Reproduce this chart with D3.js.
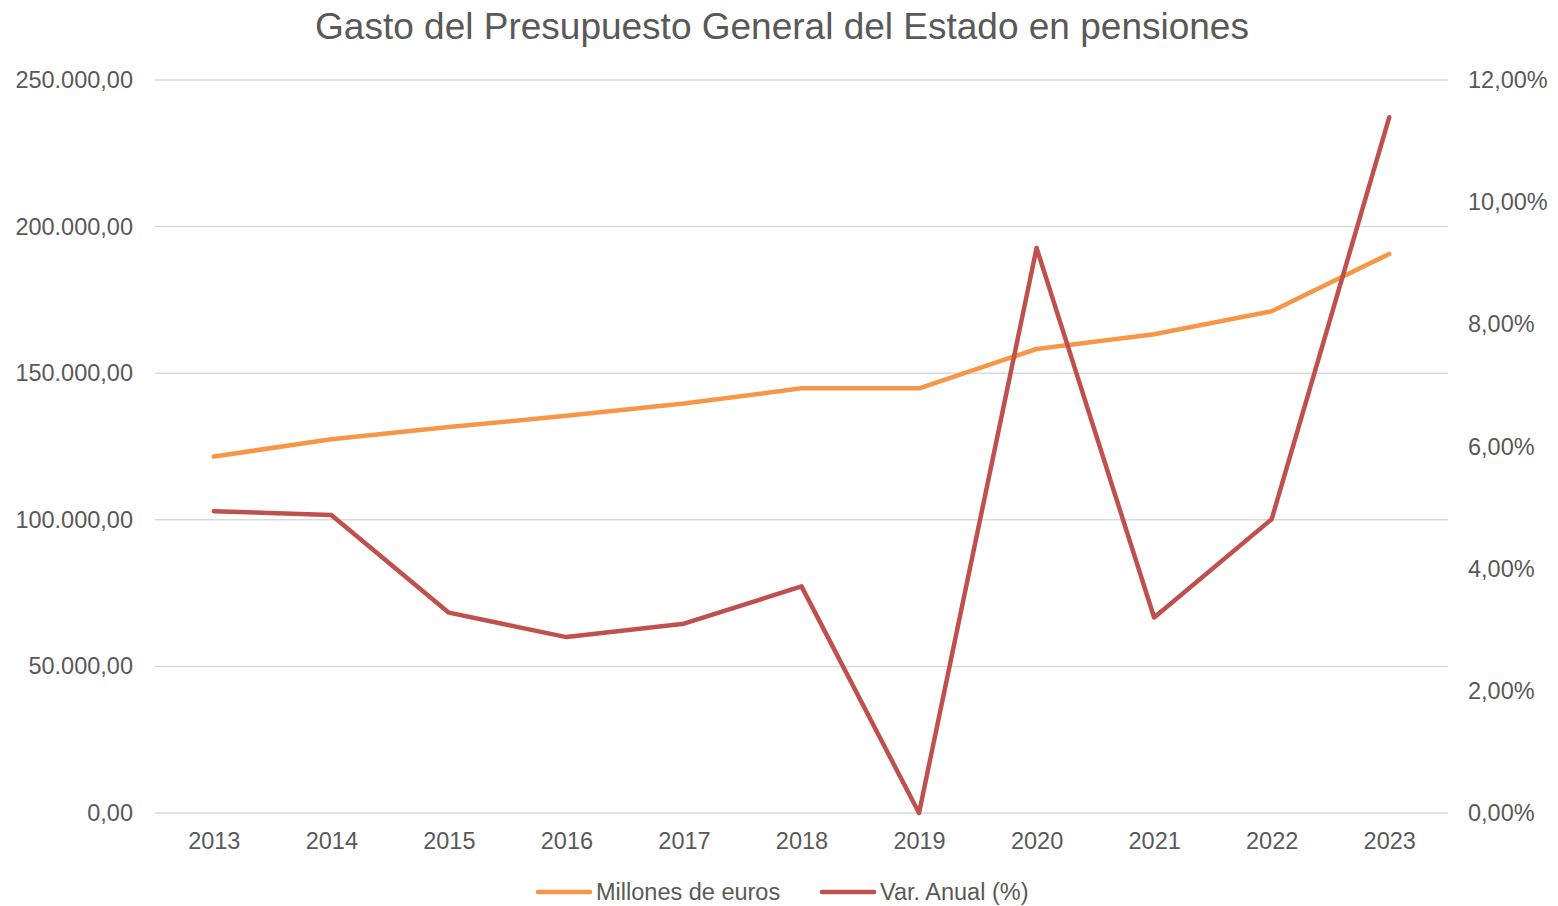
<!DOCTYPE html>
<html lang="es">
  <head>
    <meta charset="UTF-8" />
    <title>Gasto del Presupuesto General del Estado en pensiones</title>
    <style>
      body { margin: 0; background: white; }
      svg { display: block; font-family: "Liberation Sans", Arial, sans-serif; }
    </style>
  </head>
  <body>
    <svg></svg>
    <script src="https://d3js.org/d3.v7.min.js"></script>
    <script>
      const years = ["2013", "2014", "2015", "2016", "2017", "2018", "2019", "2020", "2021", "2022", "2023"];
      const millones = [121557, 127484, 131659, 135449, 139647, 144834, 144834, 158254, 163297, 171140, 190687];
      const varAnual = [4.94, 4.88, 3.28, 2.88, 3.10, 3.71, 0.0, 9.25, 3.20, 4.81, 11.39];
      const leftTicks = [0, 50000, 100000, 150000, 200000, 250000];
      const rightTicks = [0, 2, 4, 6, 8, 10, 12];

      const width = 1558;
      const height = 906;
      const margin = { top: 80, right: 110, bottom: 93, left: 155 };

      const svg = d3.select("svg").attr("width", width).attr("height", height);

      const x = d3
        .scalePoint()
        .domain(years)
        .range([margin.left, width - margin.right])
        .padding(0.5);
      const yLeft = d3
        .scaleLinear()
        .domain([0, 250000])
        .range([height - margin.bottom, margin.top]);
      const yRight = d3
        .scaleLinear()
        .domain([0, 12])
        .range([height - margin.bottom, margin.top]);

      const fmtLeft = (d) =>
        d3.format(",.2f")(d).replace(/,/g, "#").replace(".", ",").replace(/#/g, ".");
      const fmtRight = (d) => d3.format(".2f")(d).replace(".", ",") + "%";

      // gridlines
      svg
        .append("g")
        .selectAll("line")
        .data(leftTicks)
        .join("line")
        .attr("x1", margin.left)
        .attr("x2", width - margin.right)
        .attr("y1", (d) => yLeft(d))
        .attr("y2", (d) => yLeft(d))
        .attr("stroke", "#d9d9d9")
        .attr("stroke-width", 1.5);

      // left axis
      const leftAxis = svg
        .append("g")
        .attr("transform", `translate(${margin.left},0)`)
        .call(d3.axisLeft(yLeft).tickValues(leftTicks).tickFormat(fmtLeft).tickSize(0).tickPadding(22));
      leftAxis.select(".domain").remove();

      // right axis
      const rightAxis = svg
        .append("g")
        .attr("transform", `translate(${width - margin.right},0)`)
        .call(d3.axisRight(yRight).tickValues(rightTicks).tickFormat(fmtRight).tickSize(0).tickPadding(20));
      rightAxis.select(".domain").remove();

      // bottom axis
      const bottomAxis = svg
        .append("g")
        .attr("transform", `translate(0,${height - margin.bottom})`)
        .call(d3.axisBottom(x).tickSize(0).tickPadding(19));
      bottomAxis.select(".domain").remove();

      svg
        .selectAll(".tick text")
        .attr("fill", "#595959")
        .attr("font-size", 23.5)
        .attr("font-family", "Liberation Sans, Arial, sans-serif");

      // lines
      const lineLeft = d3
        .line()
        .x((d, i) => x(years[i]))
        .y((d) => yLeft(d));
      const lineRight = d3
        .line()
        .x((d, i) => x(years[i]))
        .y((d) => yRight(d));

      svg
        .append("path")
        .datum(millones)
        .attr("d", lineLeft)
        .attr("fill", "none")
        .attr("stroke", "#f79646")
        .attr("stroke-width", 4.5)
        .attr("stroke-linecap", "round")
        .attr("stroke-linejoin", "round");

      svg
        .append("path")
        .datum(varAnual)
        .attr("d", lineRight)
        .attr("fill", "none")
        .attr("stroke", "#c0504d")
        .attr("stroke-width", 4.5)
        .attr("stroke-linecap", "round")
        .attr("stroke-linejoin", "round");

      // title
      svg
        .append("text")
        .attr("x", 782)
        .attr("y", 39)
        .attr("text-anchor", "middle")
        .attr("fill", "#595959")
        .attr("font-size", 37)
        .text("Gasto del Presupuesto General del Estado en pensiones");

      // legend
      const legendItems = [
        { label: "Millones de euros", color: "#f79646", x: 538 },
        { label: "Var. Anual (%)", color: "#c0504d", x: 822 },
      ];
      const legend = svg
        .append("g")
        .selectAll("g")
        .data(legendItems)
        .join("g")
        .attr("transform", (d) => `translate(${d.x},892)`);
      legend
        .append("line")
        .attr("x1", 0)
        .attr("x2", 52)
        .attr("stroke", (d) => d.color)
        .attr("stroke-width", 4.5)
        .attr("stroke-linecap", "round");
      legend
        .append("text")
        .attr("x", 58)
        .attr("dy", "0.35em")
        .attr("fill", "#595959")
        .attr("font-size", 23.5)
        .text((d) => d.label);
    </script>
  </body>
</html>
